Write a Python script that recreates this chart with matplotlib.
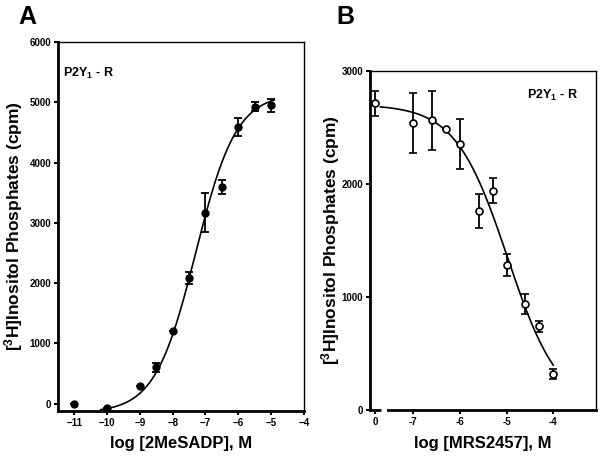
import numpy as np
import matplotlib
matplotlib.use("Agg")
import matplotlib.pyplot as plt

plt.rcParams['font.family'] = ['Liberation Sans', 'DejaVu Sans']
plt.rcParams['font.weight'] = 'bold'
plt.rcParams['mathtext.fontset'] = 'custom'
plt.rcParams['mathtext.rm'] = 'Liberation Sans:bold'
plt.rcParams['mathtext.bf'] = 'Liberation Sans:bold'
plt.rcParams['mathtext.it'] = 'Liberation Sans:bold'
plt.rcParams['mathtext.default'] = 'bf'

# panel A: 2MeSADP agonist curve
a_logc = [-11, -10, -9, -8.5, -8, -7.5, -7, -6.5, -6, -5.5, -5]
a_resp = [0, -80, 300, 600, 1200, 2080, 3170, 3600, 4590, 4930, 4950]
a_err = [0, 0, 0, 80, 0, 100, 320, 120, 150, 80, 110]
# fitted curve parameters (A)
a_bottom, a_top, a_ec50, a_hill = -150, 5150, -7.3, 0.7

# panel B: MRS2457 antagonist curve; first point is control (no antagonist, "0")
b_logc = [-7.81, -7.0, -6.6, -6.3, -6.0, -5.6, -5.3, -5.0, -4.6, -4.3, -4.0]
b_resp = [2710, 2540, 2560, 2480, 2350, 1760, 1940, 1280, 935, 740, 320]
b_err = [110, 265, 260, 0, 220, 150, 110, 100, 90, 50, 45]
b_top, b_bottom, b_ic50, b_hill = 2700, 0, -4.98, 0.78

fig = plt.figure(figsize=(6.04, 4.59), dpi=100)
ax1 = fig.add_axes([0.096, 0.105, 0.407, 0.803])
ax2 = fig.add_axes([0.613, 0.107, 0.374, 0.739])

# ---- A ----
xa = np.linspace(-10.2, -4.9, 200)
ya = a_bottom + (a_top - a_bottom) / (1 + 10 ** ((a_ec50 - xa) * a_hill))
ax1.plot(xa, ya, color='black', lw=1.2)
ax1.errorbar(a_logc, a_resp, yerr=a_err, fmt='o', color='black', ms=5,
             capsize=3, elinewidth=1.3, capthick=1.3)
ax1.set_xlim(-11.5, -4)
ax1.set_ylim(-120, 6000)
ax1.set_xticks([-11, -10, -9, -8, -7, -6, -5, -4])
ax1.set_yticks([0, 1000, 2000, 3000, 4000, 5000, 6000])
ax1.set_xlabel('log [2MeSADP], M', fontsize=12, fontweight='bold')
ax1.set_ylabel('[$^3$H]Inositol Phosphates (cpm)', fontsize=12.5, fontweight='bold')
ax1.text(0.02, 0.916, 'P2Y$_1$ - R', transform=ax1.transAxes, fontsize=9,
         fontweight='bold', va='center', ha='left')

# ---- B ----
xb = np.linspace(-7.7, -4.0, 200)
yb = b_bottom + (b_top - b_bottom) / (1 + 10 ** ((xb - b_ic50) * b_hill))
ax2.plot(xb, yb, color='black', lw=1.2)
ax2.errorbar(b_logc, b_resp, yerr=b_err, fmt='o', color='black', mfc='white',
             mec='black', mew=1.2, ms=5, capsize=3, elinewidth=1.3, capthick=1.3)
ax2.set_xlim(-7.92, -3.08)
ax2.set_ylim(0, 3000)
ax2.set_xticks([-7.81, -7, -6, -5, -4])
ax2.set_xticklabels(['0', '-7', '-6', '-5', '-4'])
ax2.set_yticks([0, 1000, 2000, 3000])
ax2.set_xlabel('log [MRS2457], M', fontsize=12, fontweight='bold')
ax2.set_ylabel('[$^3$H]Inositol Phosphates (cpm)', fontsize=12.5, fontweight='bold')
ax2.text(0.695, 0.926, 'P2Y$_1$ - R', transform=ax2.transAxes, fontsize=9,
         fontweight='bold', va='center', ha='left')
# broken x axis
ax2.spines['bottom'].set_bounds(-7.53, -3.08)
ax2.plot([-7.92, -7.68], [0, 0], color='black', lw=2, clip_on=False,
         transform=ax2.get_xaxis_transform(), solid_capstyle='butt')

for ax in (ax1, ax2):
    ax.spines['left'].set_linewidth(2)
    ax.spines['bottom'].set_linewidth(2)
    ax.spines['top'].set_linewidth(1)
    ax.spines['right'].set_linewidth(1)
    ax.tick_params(direction='out', length=3, width=1.5, labelsize=7, pad=2)
    for lab in ax.get_xticklabels() + ax.get_yticklabels():
        lab.set_fontweight('bold')

ax1.yaxis.set_label_coords(-0.134, 0.5)
ax2.yaxis.set_label_coords(-0.124, 0.5)
ax1.xaxis.set_label_coords(0.5, -0.068)
ax2.xaxis.set_label_coords(0.5, -0.077)

fig.text(0.046, 0.963, 'A', fontsize=18, fontweight='bold', ha='center', va='center')
fig.text(0.571, 0.963, 'B', fontsize=18, fontweight='bold', ha='center', va='center')

fig.savefig('out.png', dpi=100)
